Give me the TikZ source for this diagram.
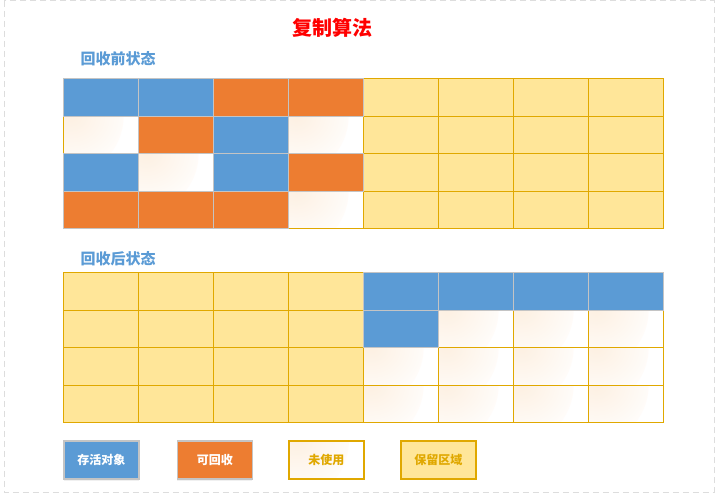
\documentclass[tikz,border=0pt]{standalone}
\usepackage{fontspec}
\newfontfamily\cjk{Noto Sans CJK SC}
\usetikzlibrary{shadows}
\definecolor{cblue}{HTML}{5B9BD5}
\definecolor{corange}{HTML}{ED7D31}
\definecolor{cyellow}{HTML}{FFE699}
\definecolor{cgold}{HTML}{E0A800}
\definecolor{cgray}{HTML}{C4C4C4}
\definecolor{cpeach}{HTML}{FDF0E2}
\definecolor{cframe}{HTML}{DDDDDD}
\def\lw{w}\def\ly{y}\def\lb{b}\def\lo{o}
\tikzset{
  cell/.style={minimum width=75pt,minimum height=37.5pt,inner sep=0pt,anchor=north west,line width=1.2pt},
  bcell/.style={cell,fill=cblue,draw=cgray},
  ocell/.style={cell,fill=corange,draw=cgray},
  ycell/.style={cell,fill=cyellow,draw=cgold},
  wshade/.style={fill=white,path picture={\shade[inner color=cpeach,outer color=white] (path picture bounding box.north west) circle (60pt);}},
  wcell/.style={cell,draw=cgold,wshade},
  legend/.style={minimum width=75pt,minimum height=38pt,inner sep=0pt,anchor=north west,line width=1.2pt,font=\cjk\bfseries\fontsize{12pt}{14pt}\selectfont},
  lshadow/.style={drop shadow={opacity=0.12,shadow xshift=0pt,shadow yshift=-2.5pt}},
  heading/.style={text=cblue,font=\cjk\bfseries\fontsize{15pt}{17pt}\selectfont,anchor=west,inner sep=0pt}
}
\begin{document}
\begin{tikzpicture}[x=1pt,y=-1pt]
\useasboundingbox (0,0) rectangle (719,496);
\draw[cframe,line width=1pt,dash pattern=on 6pt off 4pt] (4,0.8) rectangle (714,492);
\node[text=red,font=\cjk\bfseries\fontsize{20pt}{22pt}\selectfont,inner sep=0pt] (title) at (332,28) {复制算法};
\node[heading] (h1) at (80.5,58.5) {回收前状态};
\node[heading] (h2) at (80.5,259) {回收后状态};
% grid 1: light cells first, then coloured cells on top
\foreach \r/\row in {0/{b,b,o,o,y,y,y,y},1/{w,o,b,w,y,y,y,y},2/{b,w,b,o,y,y,y,y},3/{o,o,o,w,y,y,y,y}}{
  \foreach \k [count=\c from 0] in \row {
    \ifx\k\lw\node[wcell] (a-\r-\c) at (63+75*\c,78+37.5*\r) {};\fi
    \ifx\k\ly\node[ycell] (a-\r-\c) at (63+75*\c,78+37.5*\r) {};\fi
  }
}
\foreach \r/\row in {0/{b,b,o,o,y,y,y,y},1/{w,o,b,w,y,y,y,y},2/{b,w,b,o,y,y,y,y},3/{o,o,o,w,y,y,y,y}}{
  \foreach \k [count=\c from 0] in \row {
    \ifx\k\lb\node[bcell] (a-\r-\c) at (63+75*\c,78+37.5*\r) {};\fi
    \ifx\k\lo\node[ocell] (a-\r-\c) at (63+75*\c,78+37.5*\r) {};\fi
  }
}
% grid 2
\foreach \r/\row in {0/{y,y,y,y,b,b,b,b},1/{y,y,y,y,b,w,w,w},2/{y,y,y,y,w,w,w,w},3/{y,y,y,y,w,w,w,w}}{
  \foreach \k [count=\c from 0] in \row {
    \ifx\k\lw\node[wcell] (b-\r-\c) at (63+75*\c,272+37.5*\r) {};\fi
    \ifx\k\ly\node[ycell] (b-\r-\c) at (63+75*\c,272+37.5*\r) {};\fi
  }
}
\foreach \r/\row in {0/{y,y,y,y,b,b,b,b},1/{y,y,y,y,b,w,w,w},2/{y,y,y,y,w,w,w,w},3/{y,y,y,y,w,w,w,w}}{
  \foreach \k [count=\c from 0] in \row {
    \ifx\k\lb\node[bcell] (b-\r-\c) at (63+75*\c,272+37.5*\r) {};\fi
  }
}
% legend
\node[legend,lshadow,fill=cblue,draw=cgray,text=white] (l1) at (63.3,440.3) {存活对象};
\node[legend,lshadow,fill=corange,draw=cgray,text=white] (l2) at (176.7,440.3) {可回收};
\node[legend,draw=cgold,wshade,text=cgold] (l3) at (288.3,440.3) {未使用};
\node[legend,fill=cyellow,draw=cgold,text=cgold] (l4) at (400.3,440.3) {保留区域};
\end{tikzpicture}
\end{document}
